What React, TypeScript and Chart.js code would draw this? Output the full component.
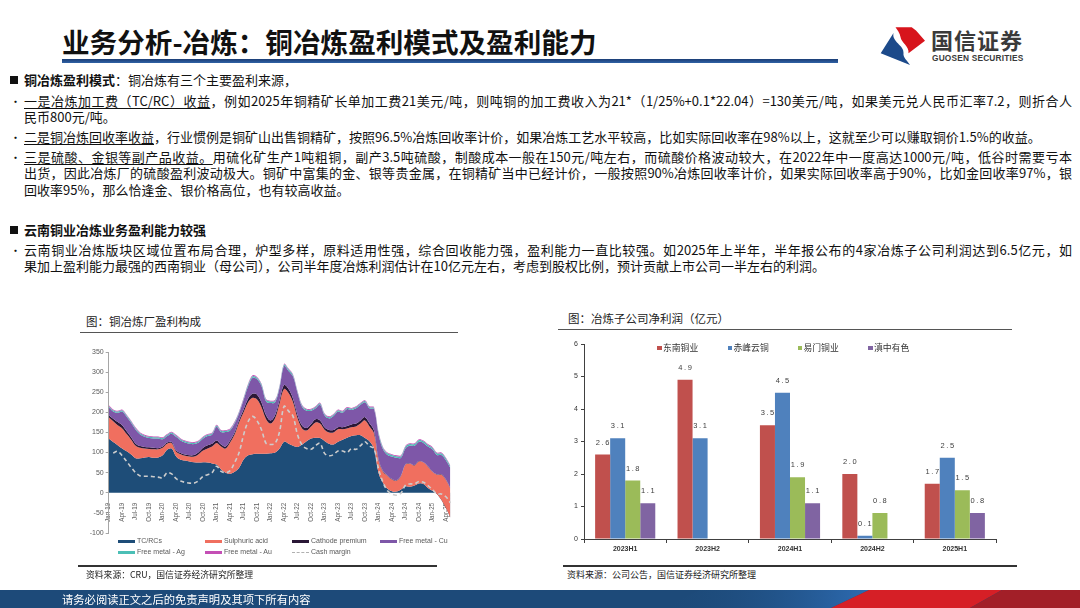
import React, { useEffect, useRef } from 'react';
import { Chart, registerables } from 'chart.js';

Chart.register(...registerables);

const CJK = '"Noto Sans CJK SC", "Noto Sans", sans-serif';
const LATIN = '"Liberation Sans", Arial, sans-serif';

// ---------- Left chart: copper smelter margin composition (USD/t) ----------
const MONTH_ABBR = ['Jan', 'Feb', 'Mar', 'Apr', 'May', 'Jun', 'Jul', 'Aug', 'Sep', 'Oct', 'Nov', 'Dec'];
const FIRST_YEAR = 19;
const MONTH_COUNT = 77; // Jan-19 .. May-25
const MONTH_LABELS = Array.from({ length: MONTH_COUNT }, (_, i) => `${MONTH_ABBR[i % 12]}-${FIRST_YEAR + Math.floor(i / 12)}`);

const TC_RCS = [
  135, 126, 118, 110, 103, 95, 86, 86, 88, 89, 87, 88,
  93, 107, 110, 90, 82, 80, 78, 76, 75, 76, 75, 73,
  70, 58, 50, 47, 52, 62, 83, 93, 96, 97, 97, 97,
  98, 100, 110, 127, 122, 117, 114, 120, 128, 135, 137, 136,
  129, 122, 120, 127, 132, 137, 141, 143, 143, 136, 128, 110,
  50, 25, 10, 4, 3, 8, 16, 15, 18, 23, 22, 12,
  5, -3, -18, -38, -62,
];
const SULPHURIC_ACID = [
  53, 52, 50, 50, 43, 37, 31, 26, 22, 20, 21, 20,
  19, 15, 13, 12, 14, 12, 12, 14, 21, 29, 35, 42,
  54, 57, 60, 78, 93, 113, 117, 132, 140, 135, 115, 86,
  74, 85, 112, 131, 126, 108, 71, 40, 27, 30, 38, 36,
  28, 28, 30, 31, 26, 23, 22, 22, 29, 44, 37, 38,
  30, 27, 32, 29, 27, 34, 54, 57, 50, 55, 53, 53,
  47, 48, 63, 70, 72,
];
const CATHODE_PREMIUM = [
  5, 6, 8, 8, 7, 6, 5, 4, 4, 4, 4, 3,
  3, 3, 3, 3, 3, 3, 3, 4, 5, 7, 8, 7,
  6, 5, 5, 5, 5, 6, 7, 9, 10, 12, 12, 10,
  8, 8, 8, 10, 10, 9, 8, 7, 6, 6, 8, 8,
  6, 6, 6, 5, 5, 6, 7, 7, 8, 8, 8, 7,
  4, 2, 1, 1, 1, 1, 1, 1, 1, 1, 1, 1,
  1, 1, 1, 1, 1,
];
const FREE_METAL_CU = [
  20, 18, 23, 34, 36, 36, 35, 29, 25, 23, 23, 24,
  18, 16, 21, 34, 31, 30, 29, 27, 24, 23, 23, 23,
  34, 31, 36, 25, 22, 17, 24, 31, 40, 38, 41, 34,
  43, 32, 31, 47, 45, 55, 55, 47, 43, 33, 27, 39,
  30, 29, 35, 39, 36, 42, 36, 38, 39, 37, 37, 53,
  61, 54, 51, 56, 56, 44, 40, 44, 48, 48, 48, 49,
  55, 48, 48, 48, 51,
];
const FREE_METAL_AG = [
  3, 3, 3, 3, 3, 3, 3, 3, 3, 3, 3, 3,
  3, 3, 3, 3, 3, 3, 3, 3, 3, 3, 3, 3,
  3, 3, 3, 3, 3, 3, 3, 4, 4, 4, 4, 4,
  4, 4, 4, 4, 4, 3, 3, 3, 3, 3, 3, 3,
  3, 3, 3, 3, 3, 3, 3, 3, 3, 3, 3, 3,
  4, 4, 4, 4, 4, 4, 4, 4, 4, 4, 4, 4,
  4, 4, 4, 4, 4,
];
const FREE_METAL_AU = [
  2, 2, 2, 2, 2, 2, 2, 2, 2, 2, 2, 2,
  2, 2, 2, 2, 2, 2, 2, 2, 2, 2, 2, 2,
  2, 2, 2, 2, 2, 2, 2, 2, 2, 2, 2, 2,
  2, 2, 2, 2, 2, 2, 2, 2, 2, 2, 2, 2,
  2, 2, 2, 2, 2, 2, 2, 2, 2, 2, 2, 2,
  2, 2, 2, 2, 2, 2, 2, 2, 2, 2, 2, 2,
  2, 2, 2, 2, 2,
];
const CASH_MARGIN = [
  null, 99, 103, 92, 78, 63, 50, 42, 41, 41, 40, 39,
  37, 50, 47, 35, 29, 26, 24, 24, 30, 41, 45, 50,
  66, 53, 50, 55, 75, 100, 144, 177, 190, 179, 156, 123,
  120, 123, 152, 215, 203, 190, 144, 119, 110, 108, 117, 123,
  98, 92, 95, 104, 104, 100, 110, 108, 117, 127, 116, 110,
  60, 26, 5, -3, -6, -1, 19, 22, 22, 28, 26, 18,
  8, -3, -3, -10, -25,
];
const LAYER_NAMES = ['TC/RCs', 'Sulphuric acid', 'Cathode premium', 'Free metal - Cu', 'Free metal - Ag', 'Free metal - Au'];
const LAYER_COLORS = ['#1e4d78', '#f06f5f', '#2a1736', '#7e57a8', '#4bbfb6', '#c44fb5'];
const CASH_NAME = 'Cash margin';
const CASH_COLOR = '#cdcdcd';

// ---------- Right chart: smelter subsidiaries net profit (100m CNY) ----------
const HALF_YEARS = ['2023H1', '2023H2', '2024H1', '2024H2', '2025H1'];
const DONGNAN = [2.6, 4.9, 3.5, 2.0, 1.7];
const CHIFENG = [3.1, 3.1, 4.5, 0.1, 2.5];
const YIMEN = [1.8, null, 1.9, 0.8, 1.5];
const DIANZHONG = [1.1, null, 1.1, null, 0.8];
const BAR_NAMES = ['东南铜业', '赤峰云铜', '易门铜业', '滇中有色'];
const BAR_COLORS = ['#c0504d', '#4f81bd', '#9bbb59', '#8064a2'];

const barValueLabels = {
  id: 'barValueLabels',
  afterDatasetsDraw(chart: any) {
    const ctx = chart.ctx;
    ctx.save();
    ctx.font = `7.5px ${LATIN}`;
    ctx.fillStyle = '#404040';
    ctx.textAlign = 'center';
    ctx.textBaseline = 'middle';
    try { (ctx as any).letterSpacing = '1.6px'; } catch (e) { /* ignore */ }
    chart.data.datasets.forEach((ds: any, di: number) => {
      const meta = chart.getDatasetMeta(di);
      meta.data.forEach((el: any, i: number) => {
        const v = ds.data[i];
        if (v === null || v === undefined) return;
        ctx.fillText(Number(v).toFixed(1), el.x + 0.8, el.y - 12);
      });
    });
    ctx.restore();
  },
};

function SmelterMarginChart() {
  const ref = useRef<HTMLCanvasElement>(null);
  useEffect(() => {
    const layers = [TC_RCS, SULPHURIC_ACID, CATHODE_PREMIUM, FREE_METAL_CU, FREE_METAL_AG, FREE_METAL_AU];
    const cumulative: number[][] = [];
    layers.forEach((arr, k) => {
      cumulative.push(arr.map((v, i) => (k === 0 ? v : cumulative[k - 1][i] + v)));
    });
    const datasets: any[] = layers.map((_, k) => ({
      label: LAYER_NAMES[k],
      data: cumulative[k],
      backgroundColor: LAYER_COLORS[k],
      borderColor: LAYER_COLORS[k],
      borderWidth: 0,
      pointRadius: 0,
      fill: k === 0 ? 'origin' : '-1',
      tension: 0.35,
      order: 10 - k,
    }));
    datasets.push({
      label: CASH_NAME,
      data: CASH_MARGIN,
      borderColor: CASH_COLOR,
      borderWidth: 1.6,
      borderDash: [4, 3],
      pointRadius: 0,
      fill: false,
      tension: 0.35,
      order: 0,
    });
    const chart = new Chart(ref.current as HTMLCanvasElement, {
      type: 'line',
      data: { labels: MONTH_LABELS, datasets },
      options: {
        animation: false,
        responsive: false,
        layout: { padding: { left: 0, right: 9, top: 12, bottom: 7 } },
        plugins: { legend: { display: false }, tooltip: { enabled: false } },
        scales: {
          x: {
            position: { y: 0 } as any,
            offset: false,
            grid: { display: false },
            border: { display: false },
            ticks: {
              autoSkip: false,
              minRotation: 90,
              maxRotation: 90,
              padding: 2,
              font: { size: 6.3, family: LATIN },
              color: '#5f5f5f',
              callback: (_v: any, i: number) => (i % 3 === 0 ? MONTH_LABELS[i] : ''),
            },
            afterFit: (s: any) => { s.height = 0; },
          } as any,
          y: {
            min: -100,
            max: 350,
            ticks: { stepSize: 50, padding: 2, font: { size: 7, family: LATIN }, color: '#595959' },
            grid: { drawOnChartArea: false, tickLength: 3, color: '#a6a6a6' },
            border: { color: '#a6a6a6' },
            afterFit: (s: any) => { s.width = 28.7; },
          } as any,
        },
      },
    });
    return () => chart.destroy();
  }, []);
  return <canvas ref={ref} width={380} height={200} style={{ position: 'absolute', left: 80, top: 340, width: 380, height: 200 }} />;
}

function SubsidiaryProfitChart() {
  const ref = useRef<HTMLCanvasElement>(null);
  useEffect(() => {
    const series = [DONGNAN, CHIFENG, YIMEN, DIANZHONG];
    const chart = new Chart(ref.current as HTMLCanvasElement, {
      type: 'bar',
      data: {
        labels: HALF_YEARS,
        datasets: series.map((d, k) => ({
          label: BAR_NAMES[k],
          data: d,
          backgroundColor: BAR_COLORS[k],
          barPercentage: 1,
          categoryPercentage: 0.73,
        })) as any,
      },
      options: {
        animation: false,
        responsive: false,
        layout: { padding: { left: 0, right: 14, top: 14, bottom: 1 } },
        plugins: { legend: { display: false }, tooltip: { enabled: false } },
        scales: {
          x: {
            grid: { drawOnChartArea: false, tickLength: 4, color: '#404040', offset: true },
            border: { color: '#404040' },
            ticks: { padding: 2, font: { size: 7, weight: 'bold', family: LATIN }, color: '#333333' },
            afterFit: (s: any) => { s.height = 20; },
          } as any,
          y: {
            min: 0,
            max: 6,
            ticks: { stepSize: 1, padding: 3, font: { size: 7, family: LATIN }, color: '#333333' },
            grid: { drawOnChartArea: false, tickLength: 3, color: '#404040' },
            border: { color: '#404040' },
            afterFit: (s: any) => { s.width = 24; },
          } as any,
        },
      },
      plugins: [barValueLabels as any],
    });
    return () => chart.destroy();
  }, []);
  return <canvas ref={ref} width={450} height={230} style={{ position: 'absolute', left: 560, top: 330, width: 450, height: 230 }} />;
}

const T = (y: number, left: number, content: React.ReactNode, extra: React.CSSProperties = {}) => (
  <div style={{ position: 'absolute', left, top: y - 9, height: 18, lineHeight: '18px', whiteSpace: 'nowrap', fontFamily: CJK, fontSize: 13, color: '#111', ...extra }}>
    {content}
  </div>
);

const JUSTIFY: React.CSSProperties = { width: 1048, textAlign: 'justify', textAlignLast: 'justify' as any };
const U: React.CSSProperties = { textDecoration: 'underline', textUnderlineOffset: '2px' };

function Bullet({ y }: { y: number }) {
  return <div style={{ position: 'absolute', left: 10, top: y - 9, lineHeight: '18px', fontSize: 11, fontFamily: CJK, color: '#111' }}>•</div>;
}
function Square({ y }: { y: number }) {
  return <div style={{ position: 'absolute', left: 10, top: y - 4.5, width: 8, height: 8, background: '#111' }} />;
}

export default function App() {
  const leftLegendCols = [118, 205, 292, 380];
  const leftLegendRows = [541, 552];
  const leftLegendItems = [
    ...LAYER_NAMES.map((n, k) => ({ name: n, color: LAYER_COLORS[k], dashed: false })),
    { name: CASH_NAME, color: '#b0b0b0', dashed: true },
  ];
  const rightLegendX = [657, 727.5, 797.5, 868];
  return (
    <div style={{ position: 'fixed', left: 0, top: 0, width: 1080, height: 608, overflow: 'hidden', background: '#ffffff' }}>
      {/* Header */}
      <div style={{ position: 'absolute', left: 62, top: 26, lineHeight: '30px', fontFamily: CJK, fontSize: 27.6, fontWeight: 700, letterSpacing: 0, color: '#111', whiteSpace: 'nowrap' }}>
        业务分析-冶炼：铜冶炼盈利模式及盈利能力
      </div>
      <div style={{ position: 'absolute', left: 62, top: 58.5, width: 776, height: 4, background: 'linear-gradient(#1b3d75, #2f62a6)' }} />
      <svg width={1080} height={70} style={{ position: 'absolute', left: 0, top: 0 }}>
        <path d="M880.7,53.3 L893.5,33 C891.5,42 904.5,45.5 903.5,53 C902.8,58 907.5,60.5 910,65 Z" fill="#1c4a8a" />
        <path d="M895.5,27.3 L911.7,27.3 L916,30.5 L925,40.7 L908.5,53.3 C909.5,46 901,42.5 900.5,37 C900,33 897,30 895.5,27.3 Z" fill="#d7141c" />
      </svg>
      <div style={{ position: 'absolute', left: 931, top: 27, lineHeight: '24px', fontFamily: CJK, fontSize: 22, fontWeight: 700, color: '#3a3a3a', letterSpacing: 1, whiteSpace: 'nowrap' }}>国信证券</div>
      <div style={{ position: 'absolute', left: 932, top: 53, lineHeight: '10px', fontFamily: LATIN, fontSize: 8.3, fontWeight: 700, color: '#3a3a3a', letterSpacing: 0.2, whiteSpace: 'nowrap' }}>GUOSEN SECURITIES</div>

      {/* Body text */}
      <Square y={80} />
      {T(80, 24, <><b>铜冶炼盈利模式</b>：铜冶炼有三个主要盈利来源，</>)}
      <Bullet y={101} />
      {T(101, 24, <><span style={U}>一是冶炼加工费（TC/RC）收益</span>，例如2025年铜精矿长单加工费21美元/吨，则吨铜的加工费收入为21*（1/25%+0.1*22.04）=130美元/吨，如果美元兑人民币汇率7.2，则折合人</>, JUSTIFY)}
      {T(117, 24, '民币800元/吨。')}
      <Bullet y={137} />
      {T(137, 24, <><span style={U}>二是铜冶炼回收率收益</span>，行业惯例是铜矿山出售铜精矿，按照96.5%冶炼回收率计价，如果冶炼工艺水平较高，比如实际回收率在98%以上，这就至少可以赚取铜价1.5%的收益。</>)}
      <Bullet y={157} />
      {T(157, 24, <><span style={U}>三是硫酸、金银等副产品收益。</span>用硫化矿生产1吨粗铜，副产3.5吨硫酸，制酸成本一般在150元/吨左右，而硫酸价格波动较大，在2022年中一度高达1000元/吨，低谷时需要亏本</>, JUSTIFY)}
      {T(173, 24, '出货，因此冶炼厂的硫酸盈利波动极大。铜矿中富集的金、银等贵金属，在铜精矿当中已经计价，一般按照90%冶炼回收率计价，如果实际回收率高于90%，比如金回收率97%，银', JUSTIFY)}
      {T(190, 24, '回收率95%，那么恰逢金、银价格高位，也有较高收益。')}
      <Square y={230} />
      {T(230, 24, <b>云南铜业冶炼业务盈利能力较强</b>)}
      <Bullet y={250} />
      {T(250, 24, '云南铜业冶炼版块区域位置布局合理，炉型多样，原料适用性强，综合回收能力强，盈利能力一直比较强。如2025年上半年，半年报公布的4家冶炼子公司利润达到6.5亿元，如', JUSTIFY)}
      {T(266, 24, '果加上盈利能力最强的西南铜业（母公司），公司半年度冶炼利润估计在10亿元左右，考虑到股权比例，预计贡献上市公司一半左右的利润。')}

      {/* Left panel */}
      {T(321, 86, '图：铜冶炼厂盈利构成', { fontSize: 11.5, color: '#222' })}
      <div style={{ position: 'absolute', left: 80, top: 331.5, width: 378, height: 1.5, background: '#555' }} />
      <SmelterMarginChart />
      {leftLegendItems.map((it, i) => {
        const x = leftLegendCols[i % 4];
        const y = leftLegendRows[Math.floor(i / 4)];
        return (
          <div key={it.name} style={{ position: 'absolute', left: x, top: y - 5, height: 10, display: 'flex', alignItems: 'center', whiteSpace: 'nowrap' }}>
            <div style={{ width: 17, height: 0, borderTop: it.dashed ? `1.5px dashed ${it.color}` : `3px solid ${it.color}`, marginRight: 2 }} />
            <span style={{ fontFamily: LATIN, fontSize: 7, color: '#595959', lineHeight: '10px' }}>{it.name}</span>
          </div>
        );
      })}
      <div style={{ position: 'absolute', left: 78, top: 565, width: 359, height: 1.5, background: '#333' }} />
      {T(575, 86, '资料来源：CRU，国信证券经济研究所整理', { fontSize: 8.8, color: '#222' })}

      {/* Right panel */}
      {T(318, 568, '图：冶炼子公司净利润（亿元）', { fontSize: 11.5, color: '#222' })}
      <div style={{ position: 'absolute', left: 558, top: 328.5, width: 454, height: 1.5, background: '#555' }} />
      <SubsidiaryProfitChart />
      {BAR_NAMES.map((n, k) => (
        <div key={n} style={{ position: 'absolute', left: rightLegendX[k], top: 348 - 6, height: 12, display: 'flex', alignItems: 'center', whiteSpace: 'nowrap' }}>
          <div style={{ width: 4.5, height: 4.5, background: BAR_COLORS[k], marginRight: 1.5 }} />
          <span style={{ fontFamily: CJK, fontSize: 8.8, color: '#333', lineHeight: '12px' }}>{n}</span>
        </div>
      ))}
      <div style={{ position: 'absolute', left: 563, top: 565, width: 454, height: 1.5, background: '#333' }} />
      {T(575, 567, '资料来源：公司公告，国信证券经济研究所整理', { fontSize: 9, color: '#222' })}

      {/* Footer */}
      <svg width={1080} height={18} style={{ position: 'absolute', left: 0, top: 590 }}>
        <defs>
          <linearGradient id="fb" x1="0" x2="1" y1="0" y2="0">
            <stop offset="0" stopColor="#1d4a79" stopOpacity="0" />
            <stop offset="1" stopColor="#2d6bb2" stopOpacity="1" />
          </linearGradient>
        </defs>
        <rect x={0} y={0} width={1080} height={18} fill="#1d4a79" />
        <polygon points="700,0 869,0 831,18 662,18" fill="url(#fb)" />
        <polygon points="869,0 1002,0 970,18 831,18" fill="#d61f26" />
        <polygon points="1002,0 1080,0 1080,18 970,18" fill="#a21f28" />
      </svg>
      <div style={{ position: 'absolute', left: 62, top: 590, lineHeight: '18px', fontFamily: CJK, fontSize: 11.3, color: '#ffffff', whiteSpace: 'nowrap' }}>请务必阅读正文之后的免责声明及其项下所有内容</div>
    </div>
  );
}
